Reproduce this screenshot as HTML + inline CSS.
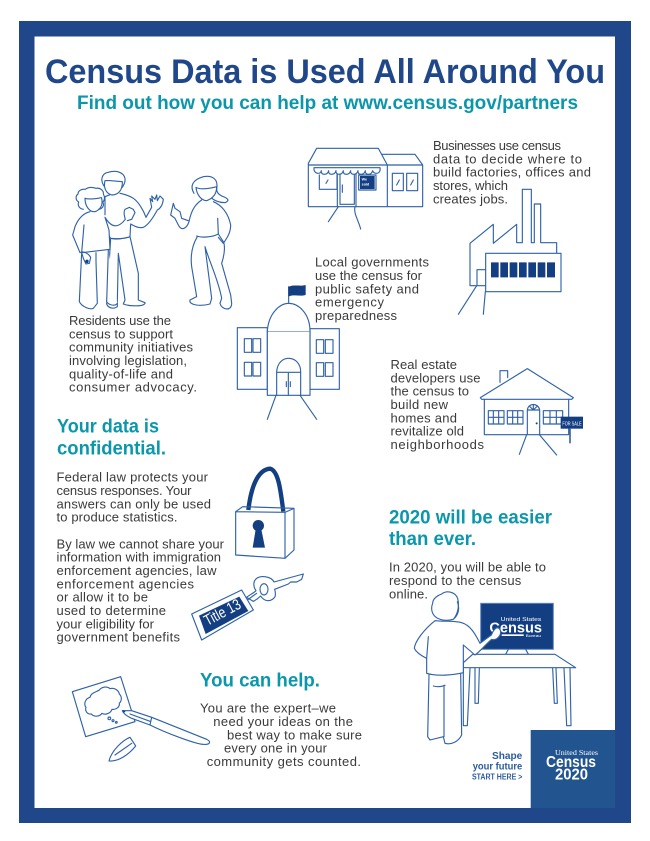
<!DOCTYPE html>
<html><head><meta charset="utf-8"><title>Census Data is Used All Around You</title>
<style>
html,body{margin:0;padding:0;background:#fff}
svg{display:block;filter:blur(.3px)}
text{font-family:"Liberation Sans",sans-serif}
.t{font-size:13px;fill:#3a3a3c}
.h{font-size:19.5px;font-weight:bold;fill:#0b97ab}
.l{fill:none;stroke:#2f62a8;stroke-width:3.4;stroke-linejoin:round;stroke-linecap:round}
.w{fill:#fff}
.d{fill:#133f82}
</style></head><body>
<svg width="650" height="841" viewBox="0 0 650 841" xmlns="http://www.w3.org/2000/svg">
<rect width="650" height="841" fill="#fff"/>
<rect x="19" y="21" width="612" height="802" fill="#1f4789"/>
<rect x="34.5" y="36.5" width="580.5" height="771.5" fill="#fff"/>

<text x="45" y="83" font-size="34" font-weight="bold" fill="#1f4789" textLength="560" lengthAdjust="spacingAndGlyphs">Census Data is Used All Around You</text>
<text x="77" y="109" font-size="19.5" font-weight="bold" fill="#0b97ab" textLength="501" lengthAdjust="spacingAndGlyphs">Find out how you can help at www.census.gov/partners</text>

<text class="t" x="69" y="325" textLength="102">Residents use the</text>
<text class="t" x="69" y="338.3" textLength="104">census to support</text>
<text class="t" x="69" y="351.7" textLength="124">community initiatives</text>
<text class="t" x="69" y="365" textLength="118">involving legislation,</text>
<text class="t" x="69" y="378.3" textLength="104">quality-of-life and</text>
<text class="t" x="69" y="391.7" textLength="128">consumer advocacy.</text>

<text class="t" x="433" y="150" textLength="128">Businesses use census</text>
<text class="t" x="433" y="163.3" textLength="149">data to decide where to</text>
<text class="t" x="433" y="176.7" textLength="158">build factories, offices and</text>
<text class="t" x="433" y="190" textLength="75">stores, which</text>
<text class="t" x="433" y="203.3" textLength="75">creates jobs.</text>

<text class="t" x="315" y="266.7" textLength="114">Local governments</text>
<text class="t" x="315" y="280" textLength="107">use the census for</text>
<text class="t" x="315" y="293.3" textLength="104">public safety and</text>
<text class="t" x="315" y="306.7" textLength="69">emergency</text>
<text class="t" x="315" y="320" textLength="82">preparedness</text>

<text class="t" x="390.5" y="369" textLength="66.5">Real estate</text>
<text class="t" x="390.5" y="382.3" textLength="90">developers use</text>
<text class="t" x="390.5" y="395.7" textLength="78.5">the census to</text>
<text class="t" x="390.5" y="409" textLength="57.5">build new</text>
<text class="t" x="390.5" y="422.3" textLength="66.5">homes and</text>
<text class="t" x="390.5" y="435.7" textLength="73.5">revitalize old</text>
<text class="t" x="390.5" y="449" textLength="93.5">neighborhoods</text>

<text class="h" x="57" y="432.7" textLength="102" lengthAdjust="spacingAndGlyphs">Your data is</text>
<text class="h" x="57" y="454.3" textLength="109" lengthAdjust="spacingAndGlyphs">confidential.</text>

<text class="t" x="56.5" y="481.7" textLength="151.5">Federal law protects your</text>
<text class="t" x="56.5" y="495" textLength="135">census responses. Your</text>
<text class="t" x="56.5" y="508.3" textLength="154.5">answers can only be used</text>
<text class="t" x="56.5" y="521.7" textLength="121">to produce statistics.</text>
<text class="t" x="56.5" y="548.3" textLength="167.5">By law we cannot share your</text>
<text class="t" x="56.5" y="561.7" textLength="164.5">information with immigration</text>
<text class="t" x="56.5" y="575" textLength="160">enforcement agencies, law</text>
<text class="t" x="56.5" y="588.3" textLength="137.5">enforcement agencies</text>
<text class="t" x="56.5" y="601.7" textLength="91.5">or allow it to be</text>
<text class="t" x="56.5" y="615" textLength="109.5">used to determine</text>
<text class="t" x="56.5" y="628.3" textLength="97.5">your eligibility for</text>
<text class="t" x="56.5" y="641.7" textLength="123.5">government benefits</text>

<text class="h" x="200" y="686.7" textLength="120" lengthAdjust="spacingAndGlyphs">You can help.</text>
<text class="t" x="200" y="712.7" textLength="136">You are the expert–we</text>
<text class="t" x="213.3" y="726" textLength="139.7">need your ideas on the</text>
<text class="t" x="227" y="739.3" textLength="135">best way to make sure</text>
<text class="t" x="224" y="752.7" textLength="103">every one in your</text>
<text class="t" x="206.7" y="766" textLength="154.3">community gets counted.</text>

<text class="h" x="389" y="523.3" textLength="163" lengthAdjust="spacingAndGlyphs">2020 will be easier</text>
<text class="h" x="389" y="545" textLength="87" lengthAdjust="spacingAndGlyphs">than ever.</text>
<text class="t" x="389" y="571.7" textLength="157">In 2020, you will be able to</text>
<text class="t" x="389" y="585" textLength="132.3">respond to the census</text>
<text class="t" x="389" y="598.3" textLength="39">online.</text>

<!-- people + capitol, zoom 1 coords -->
<g transform="translate(40,130) scale(.33333)">
<!-- man -->
<path class="l w" d="M212,325C230,330 255,325 270,320L295,430L295,510L315,518C318,530 270,530 250,522L255,510L235,370L232,515L232,530C220,538 205,535 200,522Z"/>
<path class="l w" d="M215,192L195,200L195,300L212,325C235,328 255,325 270,320L272,282C285,290 300,295 310,292C325,285 340,262 352,240C362,235 368,225 370,208L360,198L352,212L350,195L345,208L335,198L338,215L330,205L335,232L318,262C310,240 295,215 280,205C265,195 250,192 240,190"/>
<path class="l w" d="M195,152C190,172 197,190 215,195C235,195 248,180 247,155C232,155 212,150 195,152Z"/>
<path class="l" d="M192,168C180,150 185,130 205,127C225,120 250,125 255,145C257,160 250,165 247,172"/>
<!-- curly woman -->
<path class="l w" d="M125,368L118,515C125,530 150,540 160,535L172,520L168,395L168,368M205,360L200,515C205,525 225,530 232,520"/>
<path class="l w" d="M150,245C130,250 115,265 105,290L98,315L120,368C130,362 145,370 152,382L148,400L138,402L130,385L125,368L210,358L207,300L195,262C215,295 235,295 256,268C252,255 250,245 255,238L268,232L280,238L285,248L275,268L262,272"/>
<path class="l" d="M132,285L125,368"/>
<circle cx="141" cy="394" r="5" class="d"/>
<path class="l w" d="M135,205C135,230 150,247 165,245C180,240 190,225 185,205"/>
<path class="l" d="M130,238C118,236 112,226 116,216C106,210 106,198 114,192C114,182 126,176 136,178C146,170 160,172 168,175C180,172 192,182 190,192C196,202 194,212 188,216C194,226 188,236 176,238M135,205C150,210 170,205 185,203"/>
<!-- woman right -->
<path class="l w" d="M472,320C460,340 450,370 455,410L470,500L450,510C445,525 480,530 510,522L515,505L495,350C510,400 535,450 545,505L540,520C545,540 575,545 575,520L572,495L545,400C555,370 555,345 550,335L535,312"/>
<path class="l w" d="M485,210C470,220 455,235 447,275C440,295 425,305 415,285L405,265L392,255L400,220L405,235L420,245L425,265L445,272"/>
<path class="l" d="M520,215C545,225 565,250 572,285C572,310 560,325 550,340L535,322M470,318C490,325 520,320 535,312L533,265"/>
<path class="l w" d="M510,200C520,210 535,218 555,218C570,212 565,205 545,198C530,190 530,182 530,172"/>
<path class="l w" d="M468,172C470,195 485,212 500,212C520,205 530,190 530,170C510,175 480,180 468,172Z"/>
<path class="l" d="M462,190C450,170 455,150 490,140C520,135 535,150 530,175"/>

<!-- capitol -->
<path class="l w" d="M592,593H682V778H592ZM810,596H898V778H810Z"/>
<rect class="l w" x="682" y="604" width="128" height="192"/>
<path class="l w" d="M682,604C685,550 720,520 746,520C775,520 810,550 810,604"/>
<path class="l" d="M746,520V470"/>
<path class="d" d="M745,471C760,462 780,470 797,465V495C780,500 760,492 745,500Z"/>
<path class="l" d="M613,626h22v41h-22zM639,626h23v41h-23zM613,697h22v41h-22zM639,697h23v41h-23zM829,629h22v41h-22zM856,629h23v41h-23zM829,698h22v41h-22zM856,698h23v41h-23z"/>
<path class="l" d="M710,796V725C712,697 730,685 745,685C765,685 782,700 782,725V796M710,727H782M745,727V796M739,755V770M751,755V770M708,796L682,868M780,796L830,868"/>
</g>

<!-- store, factory, house, zoom 2 coords -->
<g transform="translate(300,130) scale(.33333)">
<path class="l" d="M25,100L50,55H235L262,105H25ZM25,105V230H368V105H262V230M245,73H345L368,105"/>
<path class="l" d="M58,135V178H111V135M120,135V223H163V135M112,130V230M168,130V230M127,165V187M84,150L78,160M277,130h33v52h-33zM320,130h33v52h-33zM290,165L298,150M332,165L340,150"/>
<rect class="l" x="176" y="135" width="52" height="45"/>
<rect class="d" x="180" y="138" width="44" height="39"/>
<text x="185" y="152" font-size="11" fill="#fff" font-weight="bold">We</text>
<text x="185" y="166" font-size="11" fill="#fff" font-weight="bold">sold</text>
<path class="l w" d="M42,113H240C242,122 238,130 229,130C222,130 219,126 218,122C216,130 212,133 205,133C198,133 195,128 196,122C194,130 190,133 183,133C176,133 173,128 174,122C172,130 168,133 161,133C154,133 151,128 152,122C150,130 146,133 139,133C132,133 129,128 130,122C128,130 124,133 117,133C110,133 107,128 108,122C106,130 102,133 95,133C88,133 85,128 86,122C84,130 80,133 73,133C66,133 63,128 64,122C62,130 58,130 52,130C45,128 41,122 42,113Z"/>
<path class="l" d="M115,230L85,275M165,230C160,250 175,270 182,297"/>

<path class="l" d="M510,467V340L580,283V340L650,283V338H667V178H694V338H703V222H722V338H770V370M510,467H557M531,467V419H557"/>
<rect class="l w" x="557" y="370" width="226" height="115"/>
<path class="d" d="M573,397h23v45h-23zM601,397h23v45h-23zM629,397h23v45h-23zM657,397h23v45h-23zM685,397h23v45h-23zM713,397h23v45h-23zM741,397h24v45h-24z"/>
<path class="l" d="M530,467L475,553M556,485L550,553"/>

<path class="l" d="M600,757V722H623V743"/>
<path class="l w" d="M541,803L682,716L820,803L815,808H545Z"/>
<path class="l" d="M553,808V914H806V808"/>
<path class="l" d="M565,842h47v40h-47zM565,862h47M580,842v40M596,842v40M622,842h47v40h-47zM622,862h47M638,842v40M653,842v40M730,842h58v40h-58zM730,862h58M750,842v40M769,842v40M682,914V840H719V914M682,840C685,818 715,818 719,840M682,840H719M700,825V840M690,830L700,840L710,830"/>
<circle cx="710" cy="880" r="3" class="d"/>
<rect class="d" x="782" y="860" width="67" height="36"/>
<text x="787" y="886" font-size="17" fill="#fff" textLength="58" lengthAdjust="spacingAndGlyphs">FOR SALE</text>
<path d="M810,896V940" stroke="#133f82" stroke-width="4"/>
<path class="l" d="M680,914L658,973M718,914L770,975"/>
</g>

<!-- lock, key, note, zoom 3 coords -->
<g transform="translate(40,460) scale(.33333)">
<path fill="none" stroke="#133f82" stroke-width="13" d="M625,150C635,65 660,28 690,26C715,32 722,90 730,155"/>
<path class="l" d="M587,155L608,140L762,145L735,157ZM587,155V285L735,295V157M762,145V270L735,295"/>
<circle cx="655" cy="197" r="17" class="d"/>
<path class="d" d="M647,208L638,263H675L664,208Z"/>
<path class="l" d="M790,342L702,366C695,350 665,345 650,355C638,365 640,380 648,392C640,400 628,405 620,412L640,424C652,418 658,412 662,408C675,428 695,425 705,410C708,400 705,392 704,388L745,372L752,366L770,366L785,358Z"/>
<ellipse class="l" cx="672" cy="388" rx="12" ry="17"/>
<path class="l" d="M622,420L650,400"/>
<path class="l w" d="M455,462L605,390L640,450L485,540Z"/>
<path class="d" d="M477,467L598,410L625,453L497,522Z"/>
<text x="0" y="0" font-size="46" fill="#fff" transform="translate(502,498) rotate(-28)" textLength="118" lengthAdjust="spacingAndGlyphs">Title 13</text>
<path class="l" d="M97,695L242,650L285,785L137,830Z"/>
<path class="l" d="M150,712C152,698 170,696 178,690C186,680 202,678 210,686C222,682 236,690 238,702C246,710 246,722 238,730C240,742 226,750 216,748C212,760 196,766 186,760C178,772 160,770 154,762C142,764 134,752 138,742C130,732 136,716 150,712Z"/>
<circle class="l" cx="208" cy="775" r="4"/><circle class="l" cx="219" cy="782" r="3"/><circle class="l" cx="229" cy="787" r="2.5"/>
<path class="l w" d="M247,752L275,752L335,772L500,838C515,845 510,855 490,853C470,853 380,820 330,795L275,775C260,768 250,760 247,752Z"/>
<path class="l" d="M335,772L330,795M270,762L330,784"/>
<path class="d" d="M247,750l10,3l-5,6z"/>
<path class="l" d="M207,903C215,870 250,840 270,832L287,858C265,885 235,905 207,903ZM225,885L275,850"/>
</g>

<!-- computer, zoom 4 coords -->
<g transform="translate(380,580) scale(.33333)">
<rect x="302" y="70" width="218" height="138" fill="#133f82" stroke="#5f86bf" stroke-width="3"/>
<text x="362" y="123" font-size="17" fill="#fff" textLength="122" lengthAdjust="spacingAndGlyphs">United States</text>
<text x="328" y="158" font-size="44" font-weight="bold" fill="#fff" textLength="158" lengthAdjust="spacingAndGlyphs">Census</text>
<rect x="365" y="163" width="66" height="5" fill="#fff"/>
<text x="437" y="171" font-size="10" fill="#fff" textLength="46" lengthAdjust="spacingAndGlyphs">Bureau</text>
<path class="l" d="M385,208L367,241H455L437,208"/>
<path class="l w" d="M250,248L278,223H525L587,263H250Z"/>
<path class="l w" d="M250,265V437H262L270,265M285,265V370H295L298,265M518,265L523,370H532L528,265M552,265L560,437H573L570,265"/>
<path class="l w" d="M147,285L143,470L150,480L190,470L195,490C215,495 235,485 245,465L242,280"/>
<path class="l" d="M160,318C175,322 185,320 195,316M192,316V470"/>
<path class="l w" d="M165,122C130,150 105,185 103,205C110,220 130,230 140,235V280C170,290 220,285 250,278V195L285,225C300,215 315,195 335,178C345,182 355,175 360,165C365,155 360,145 352,142C345,145 338,155 334,165L300,190C285,160 270,135 245,128C225,122 195,125 165,122Z"/>
<path class="l w" d="M178,117C158,110 150,90 158,70C158,55 175,45 185,42C200,30 225,35 233,55C238,75 235,100 220,118C205,122 190,122 178,117Z"/>
<path class="l" d="M232,65C240,85 235,105 222,116M145,170L140,235"/>
</g>

<!-- logo -->
<rect x="530.7" y="730" width="84.3" height="78" fill="#22548f"/>
<text x="555" y="755" font-size="7.5" fill="#fff" textLength="43" lengthAdjust="spacingAndGlyphs" style="font-family:'Liberation Serif',serif">United States</text>
<text x="546" y="767" font-size="15.5" font-weight="bold" fill="#fff" textLength="50" lengthAdjust="spacingAndGlyphs">Census</text>
<text x="555" y="779.5" font-size="16" font-weight="bold" fill="#fff" textLength="33" lengthAdjust="spacingAndGlyphs">2020</text>
<text x="492" y="759" font-size="10.5" font-weight="bold" fill="#2b5b9e" textLength="30.3" lengthAdjust="spacingAndGlyphs">Shape</text>
<text x="472.7" y="769.5" font-size="10.5" font-weight="bold" fill="#2b5b9e" textLength="49.6" lengthAdjust="spacingAndGlyphs">your future</text>
<text x="472" y="779.5" font-size="8" font-weight="bold" fill="#2b5b9e" textLength="50.3" lengthAdjust="spacingAndGlyphs">START HERE &gt;</text>
</svg>
</body></html>
